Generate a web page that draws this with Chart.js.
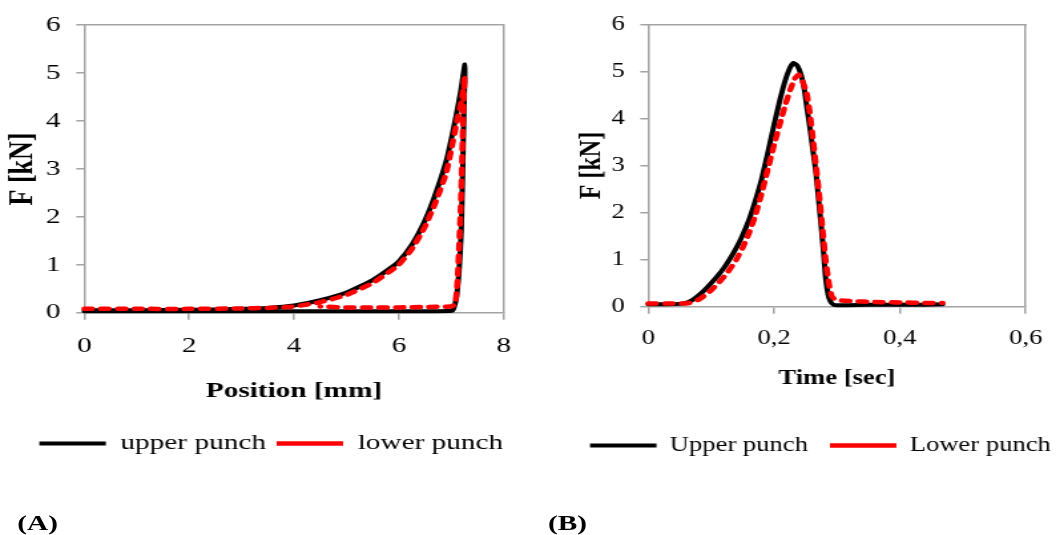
<!DOCTYPE html>
<html><head><meta charset="utf-8">
<script src="https://cdn.jsdelivr.net/npm/chart.js@4.4.1/dist/chart.umd.min.js"></script>
<style>
html,body{margin:0;padding:0;background:#fff;}
body{width:1061px;height:535px;position:relative;overflow:hidden;}
.panel{position:absolute;top:0;height:535px;transform:scaleX(1.33);transform-origin:0 0;}
.panel canvas{position:absolute;left:0;top:0;}
.tag{position:absolute;font:bold 22px "Liberation Serif","Times New Roman",serif;line-height:22px;color:#000;white-space:nowrap;}
</style></head><body>
<div class="panel" style="left:0;width:398px;"><canvas id="ca" width="398" height="470"></canvas><div class="tag" style="left:13px;top:512px;">(A)</div></div>
<div class="panel" style="left:540px;width:391px;"><canvas id="cb" width="391" height="470"></canvas><div class="tag" style="left:6px;top:512px;">(B)</div></div>
<script>
// ---------- Chart (A): force vs position ----------
const seriesNamesA = ['upper punch', 'lower punch'];
const posUpperX = [0, 1, 2, 3, 3.5, 4, 4.5, 5, 5.5, 5.8, 6.0, 6.25, 6.5, 6.7, 6.9, 7.0, 7.1, 7.18, 7.26,
                   7.25, 7.23, 7.21, 7.19, 7.15, 7.1, 7.05, 7.01, 6.5, 5.5, 4.5, 3.5, 2.5, 1.5, 0.5, 0];
const posUpperF = [0.05, 0.05, 0.06, 0.08, 0.1, 0.15, 0.26, 0.42, 0.68, 0.9, 1.07, 1.42, 1.93, 2.48, 3.15, 3.62, 4.15, 4.62, 5.18,
                   4.6, 3.6, 2.6, 1.7, 0.9, 0.33, 0.1, 0.04, 0.03, 0.03, 0.03, 0.03, 0.03, 0.03, 0.03, 0.03];
const posLowerX = [0, 1, 2, 3, 3.5, 4, 4.5, 5, 5.5, 5.8, 6.0, 6.25, 6.5, 6.7, 6.9, 7.0, 7.1, 7.2, 7.26,
                   7.24, 7.22, 7.2, 7.18, 7.15, 7.12, 7.09, 7.05, 7.0, 6.5, 6.0, 5.5, 5.0, 4.5];
const posLowerF = [0.08, 0.08, 0.08, 0.09, 0.1, 0.13, 0.22, 0.37, 0.62, 0.84, 1.0, 1.33, 1.8, 2.3, 2.9, 3.4, 3.95, 4.45, 4.93,
                   4.6, 3.8, 3.0, 2.2, 1.4, 0.7, 0.3, 0.16, 0.13, 0.12, 0.11, 0.11, 0.11, 0.13];
const xTicksA = ['0', '2', '4', '6', '8'];
const yTicksF = ['0', '1', '2', '3', '4', '5', '6'];

// ---------- Chart (B): force vs time ----------
const seriesNamesB = ['Upper punch', 'Lower punch'];
const timeUpper = [0, 0.03, 0.05, 0.06, 0.07, 0.08, 0.09, 0.1, 0.11, 0.12, 0.13, 0.14, 0.15, 0.16, 0.17, 0.18, 0.19, 0.2, 0.21, 0.218, 0.225, 0.231,
                   0.237, 0.243, 0.248, 0.253, 0.257, 0.262, 0.267, 0.271, 0.275, 0.279, 0.282, 0.286, 0.29, 0.295, 0.31, 0.35, 0.4, 0.44, 0.468];
const forceUpper = [0.05, 0.05, 0.06, 0.08, 0.14, 0.24, 0.36, 0.5, 0.65, 0.82, 1.02, 1.25, 1.52, 1.84, 2.24, 2.7, 3.27, 3.87, 4.43, 4.82, 5.07, 5.18,
                    5.12, 4.92, 4.62, 4.15, 3.8, 3.3, 2.8, 2.25, 1.7, 1.1, 0.6, 0.25, 0.1, 0.04, 0.03, 0.04, 0.04, 0.04, 0.05];
const timeLower = [0, 0.04, 0.06, 0.07, 0.08, 0.09, 0.1, 0.11, 0.12, 0.13, 0.14, 0.15, 0.16, 0.17, 0.18, 0.19, 0.2, 0.21, 0.218, 0.226, 0.233, 0.239,
                   0.245, 0.252, 0.257, 0.262, 0.267, 0.272, 0.277, 0.282, 0.287, 0.292, 0.3, 0.32, 0.36, 0.4, 0.44, 0.468];
const forceLower = [0.07, 0.07, 0.07, 0.09, 0.15, 0.24, 0.35, 0.48, 0.63, 0.8, 1.0, 1.25, 1.56, 1.93, 2.4, 2.92, 3.44, 3.92, 4.3, 4.62, 4.85, 4.93,
                    4.8, 4.53, 4.1, 3.54, 2.95, 2.34, 1.65, 0.99, 0.5, 0.21, 0.14, 0.12, 0.1, 0.09, 0.08, 0.08];
const xTicksB = ['0', '0,2', '0,4', '0,6'];

// ---------- helpers ----------
const FONT = '"Liberation Serif", "Times New Roman", serif';
const GRAY = '#a3a3a3';
const toPts = (xs, ys) => xs.map((x, i) => ({x: x, y: ys[i]}));

const legendPlace = {
  id: 'legendPlace',
  afterLayout(chart, args, opts) {
    const lg = chart.legend;
    if (!lg) return;
    lg.maxWidth = 10000;
    lg.fit();
    lg.left = opts.x - opts.padding;
    lg.right = lg.left + 10000;
    lg.width = 10000;
    lg.top = opts.y - opts.padding - opts.size / 2;
    lg.bottom = lg.top + 120;
    lg.height = 120;
  }
};

function lineSets(names, upper, lower) {
  return [
    {label: names[0], data: upper, showLine: true, borderColor: '#000', backgroundColor: '#000',
     borderWidth: 4, pointRadius: 0, tension: 0.15, borderCapStyle: 'round', borderJoinStyle: 'round', order: 1, clip: false},
    {label: names[1], data: lower, showLine: true, borderColor: '#ff0000', backgroundColor: '#ff0000',
     borderWidth: 4.5, borderDash: [6, 6.5], pointRadius: 0, tension: 0.15, borderCapStyle: 'round', borderJoinStyle: 'round', order: 0, clip: false}
  ];
}

function frameAxes() {
  return {
    x2: {type: 'linear', position: 'top', min: 0, max: 1, ticks: {display: false},
         grid: {display: false, drawTicks: false}, border: {display: true, color: GRAY, width: 1.5},
         afterFit: (s) => { s.height = 0; }},
    y2: {type: 'linear', position: 'right', min: 0, max: 1, ticks: {display: false},
         grid: {display: false, drawTicks: false}, border: {display: true, color: GRAY, width: 1.5},
         afterFit: (s) => { s.width = 0; }}
  };
}

function build(id, p) {
  return new Chart(document.getElementById(id), {
    type: 'scatter',
    data: {datasets: lineSets(p.names, p.upper, p.lower)},
    options: {
      responsive: false, animation: false, events: [],
      layout: {padding: {left: 0, top: p.top, right: p.right, bottom: 0}},
      plugins: {
        tooltip: {enabled: false},
        title: {display: false},
        legend: {
          position: 'bottom', align: 'start', maxHeight: 0.001,
          labels: {usePointStyle: true, pointStyle: 'line', pointStyleWidth: 50, padding: p.legPad,
                   color: '#000', font: {family: FONT, size: p.legSize},
                   sort: (a, b) => a.datasetIndex - b.datasetIndex}
        },
        legendPlace: {x: p.legX, y: p.legY, padding: p.legPad, size: p.legSize}
      },
      scales: Object.assign({
        x: {
          type: 'linear', position: 'bottom', min: p.xMin, max: p.xMax,
          ticks: {stepSize: p.xStep, autoSkip: false, maxRotation: 0, color: '#000', padding: p.xTickPad,
                  font: {family: FONT, size: p.tickSize}, callback: (v, i) => p.xTicks[i]},
          grid: {drawOnChartArea: false, drawTicks: true, tickLength: 7, color: GRAY, lineWidth: 1.5},
          border: {display: true, color: GRAY, width: 1.5},
          title: {display: true, text: p.xTitle, color: '#000',
                  font: {family: FONT, size: p.xTitleSize, weight: 'bold'}, padding: {top: 0, bottom: p.xTitlePad}},
          afterFit: (s) => { s.height = p.xAxisH; }
        },
        y: {
          type: 'linear', position: 'left', min: 0, max: 6,
          ticks: {stepSize: 1, autoSkip: false, color: '#000', padding: p.yTickPad,
                  font: {family: FONT, size: p.tickSize}, callback: (v, i) => yTicksF[i]},
          grid: {drawOnChartArea: false, drawTicks: true, tickLength: 6, color: GRAY, lineWidth: 1.5},
          border: {display: true, color: GRAY, width: 1.5},
          title: {display: true, text: 'F [kN]', color: '#000',
                  font: {family: FONT, size: p.yTitleSize, weight: 'bold'}, padding: {top: p.yTitlePad, bottom: 0}},
          afterFit: (s) => { s.width = p.yAxisW; }
        }
      }, frameAxes())
    },
    plugins: [legendPlace]
  });
}

build('ca', {
  names: seriesNamesA, upper: toPts(posUpperX, posUpperF), lower: toPts(posLowerX, posLowerF),
  top: 21.7, right: 15.3, xMin: 0, xMax: 8, xStep: 2, xTicks: xTicksA, tickSize: 22,
  xTickPad: 13.8, xTitle: 'Position [mm]', xTitleSize: 22, xTitlePad: 65.8, xAxisH: 157.3,
  yTickPad: 12, yTitleSize: 26, yTitlePad: 1.7, yAxisW: 63.4,
  legX: 29.6, legY: 443.5, legPad: 8, legSize: 22
});

build('cb', {
  names: seriesNamesB, upper: toPts(timeUpper, forceUpper), lower: toPts(timeLower, forceLower),
  top: 24.3, right: 13.8, xMin: 0, xMax: 0.6, xStep: 0.2, xTicks: xTicksB, tickSize: 20,
  xTickPad: 13.3, xTitle: 'Time [sec]', xTitleSize: 20, xTitlePad: 79, xAxisH: 163.3,
  yTickPad: 11.7, yTitleSize: 24, yTitlePad: 23.9, yAxisW: 81.4,
  legX: 37.6, legY: 445.5, legPad: 16.5, legSize: 20
});
</script>
</body></html>
